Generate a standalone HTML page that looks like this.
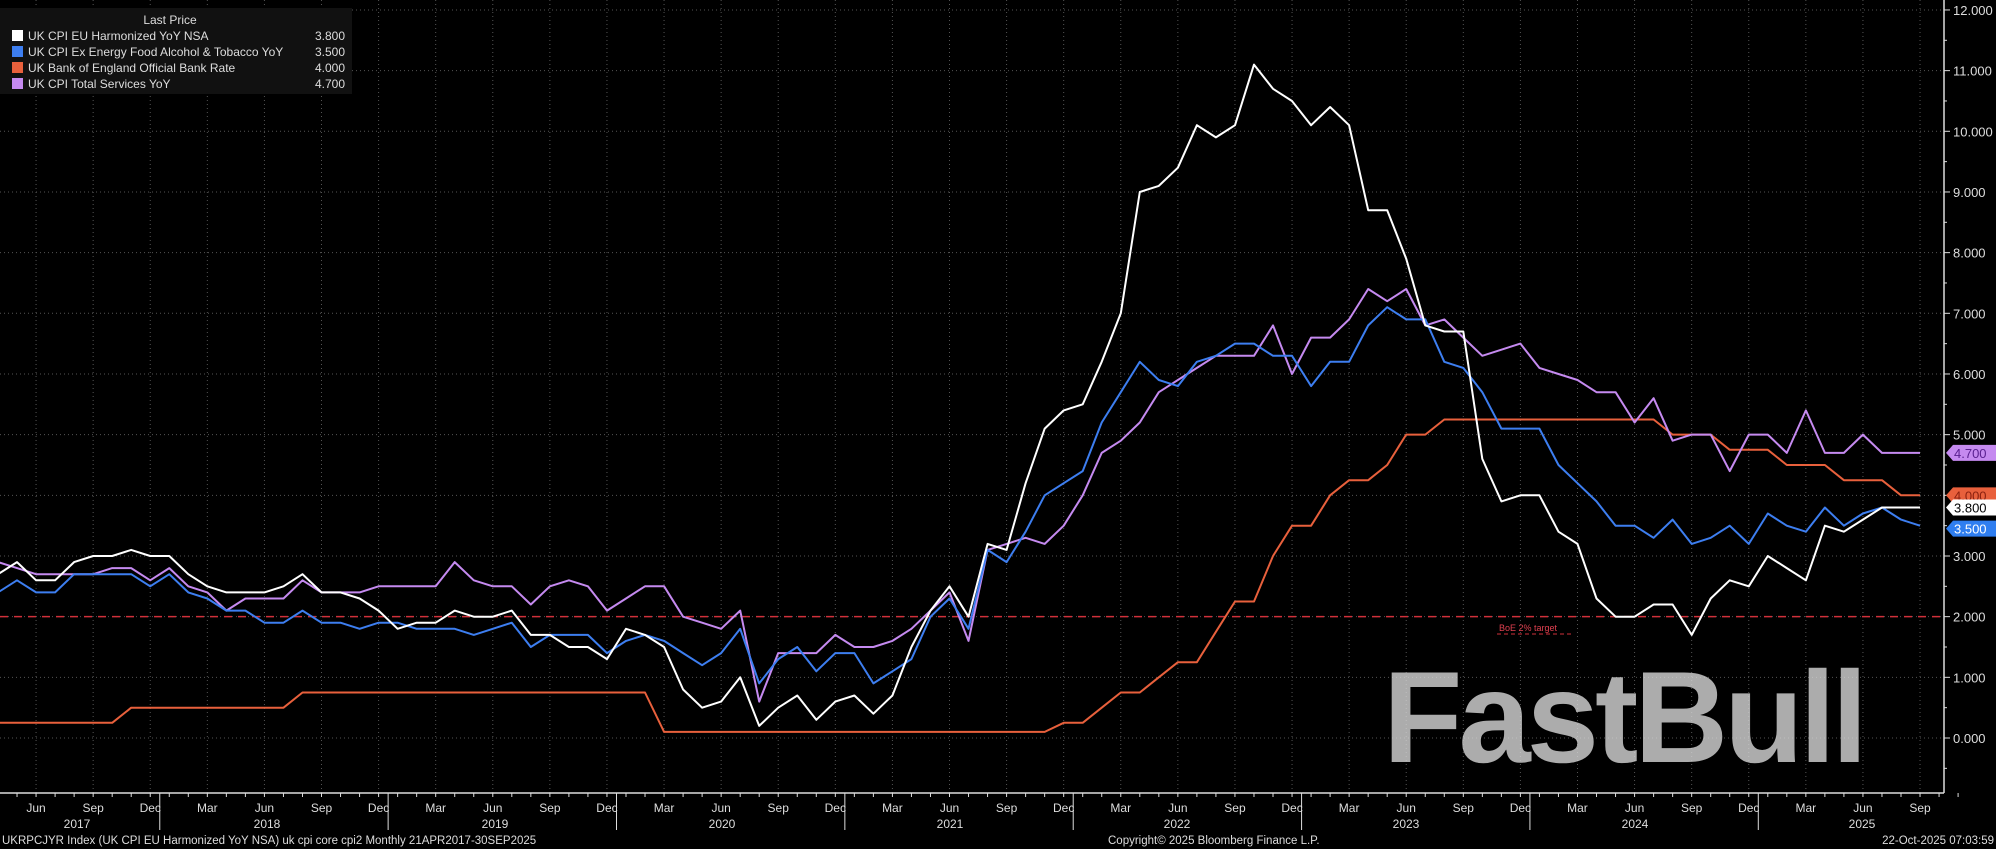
<!DOCTYPE html>
<html><head><meta charset="utf-8"><style>
html,body{margin:0;padding:0;background:#000;width:1996px;height:849px;overflow:hidden}
svg{display:block;font-family:"Liberation Sans",sans-serif}
</style></head><body>
<svg id="c" width="1996" height="849" viewBox="0 0 1996 849"></svg>
<script>
const svg=document.getElementById('c');
const NS='http://www.w3.org/2000/svg';
function el(t,a,txt){const e=document.createElementNS(NS,t);for(const k in a)e.setAttribute(k,a[k]);if(txt!==undefined)e.textContent=txt;svg.appendChild(e);return e;}
const X=i=>-2+i*19.03;
const Y=v=>738-v*60.67;
const R=1944;
for(let v=0;v<=12;v++){el('line',{x1:0,x2:R,y1:Y(v),y2:Y(v),stroke:'#555','stroke-dasharray':'1,3','stroke-width':1});}
for(let i=2;i<=101;i+=3){el('line',{x1:X(i),x2:X(i),y1:0,y2:793,stroke:'#555','stroke-dasharray':'1,3','stroke-width':1});}
el('line',{x1:R,x2:R,y1:0,y2:793,stroke:'#ddd','stroke-width':1.5});
el('line',{x1:0,x2:R,y1:793,y2:793,stroke:'#ddd','stroke-width':1.5});
for(let v=0;v<=12;v++){el('line',{x1:R,x2:R+6,y1:Y(v),y2:Y(v),stroke:'#ddd'});
 el('text',{x:R+9,y:Y(v)+5,fill:'#ddd','font-size':13},v.toFixed(3));
 el('line',{x1:R,x2:R+3,y1:Y(v+0.5),y2:Y(v+0.5),stroke:'#ddd'});}
el('line',{x1:R,x2:R+3,y1:Y(-0.5),y2:Y(-0.5),stroke:'#ddd'});
const mn=['Jan','Feb','Mar','Apr','May','Jun','Jul','Aug','Sep','Oct','Nov','Dec'];
for(let i=0;i<=103;i++){const m=(i+3)%12;const x=X(i);
 el('line',{x1:x,x2:x,y1:793,y2:797,stroke:'#ddd'});
 if(m%3==2 && i<=101) el('text',{x:x,y:812,fill:'#ddd','font-size':12,'text-anchor':'middle'},mn[m]);
 if(m==0) el('line',{x1:x-9.5,x2:x-9.5,y1:793,y2:830,stroke:'#ddd'});}
const yrs=[[2017,77],[2018,267],[2019,495],[2020,722],[2021,950],[2022,1177],[2023,1406],[2024,1635],[2025,1862]];
yrs.forEach(([y,x])=>el('text',{x:x,y:828,fill:'#ddd','font-size':12,'text-anchor':'middle'},y));
const cpi=[2.7,2.9,2.6,2.6,2.9,3.0,3.0,3.1,3.0,3.0,2.7,2.5,2.4,2.4,2.4,2.5,2.7,2.4,2.4,2.3,2.1,1.8,1.9,1.9,2.1,2.0,2.0,2.1,1.7,1.7,1.5,1.5,1.3,1.8,1.7,1.5,0.8,0.5,0.6,1.0,0.2,0.5,0.7,0.3,0.6,0.7,0.4,0.7,1.5,2.1,2.5,2.0,3.2,3.1,4.2,5.1,5.4,5.5,6.2,7.0,9.0,9.1,9.4,10.1,9.9,10.1,11.1,10.7,10.5,10.1,10.4,10.1,8.7,8.7,7.9,6.8,6.7,6.7,4.6,3.9,4.0,4.0,3.4,3.2,2.3,2.0,2.0,2.2,2.2,1.7,2.3,2.6,2.5,3.0,2.8,2.6,3.5,3.4,3.6,3.8,3.8,3.8];
const core=[2.4,2.6,2.4,2.4,2.7,2.7,2.7,2.7,2.5,2.7,2.4,2.3,2.1,2.1,1.9,1.9,2.1,1.9,1.9,1.8,1.9,1.9,1.8,1.8,1.8,1.7,1.8,1.9,1.5,1.7,1.7,1.7,1.4,1.6,1.7,1.6,1.4,1.2,1.4,1.8,0.9,1.3,1.5,1.1,1.4,1.4,0.9,1.1,1.3,2.0,2.3,1.8,3.1,2.9,3.4,4.0,4.2,4.4,5.2,5.7,6.2,5.9,5.8,6.2,6.3,6.5,6.5,6.3,6.3,5.8,6.2,6.2,6.8,7.1,6.9,6.9,6.2,6.1,5.7,5.1,5.1,5.1,4.5,4.2,3.9,3.5,3.5,3.3,3.6,3.2,3.3,3.5,3.2,3.7,3.5,3.4,3.8,3.5,3.7,3.8,3.6,3.5];
const serv=[2.9,2.8,2.7,2.7,2.7,2.7,2.8,2.8,2.6,2.8,2.5,2.4,2.1,2.3,2.3,2.3,2.6,2.4,2.4,2.4,2.5,2.5,2.5,2.5,2.9,2.6,2.5,2.5,2.2,2.5,2.6,2.5,2.1,2.3,2.5,2.5,2.0,1.9,1.8,2.1,0.6,1.4,1.4,1.4,1.7,1.5,1.5,1.6,1.8,2.1,2.4,1.6,3.1,3.2,3.3,3.2,3.5,4.0,4.7,4.9,5.2,5.7,5.9,6.1,6.3,6.3,6.3,6.8,6.0,6.6,6.6,6.9,7.4,7.2,7.4,6.8,6.9,6.6,6.3,6.4,6.5,6.1,6.0,5.9,5.7,5.7,5.2,5.6,4.9,5.0,5.0,4.4,5.0,5.0,4.7,5.4,4.7,4.7,5.0,4.7,4.7,4.7];
const ch={'2017-11':0.5,'2018-8':0.75,'2020-3':0.1,'2021-12':0.25,'2022-2':0.5,'2022-3':0.75,'2022-5':1.0,'2022-6':1.25,'2022-8':1.75,'2022-9':2.25,'2022-11':3.0,'2022-12':3.5,'2023-2':4.0,'2023-3':4.25,'2023-5':4.5,'2023-6':5.0,'2023-8':5.25,'2024-8':5.0,'2024-11':4.75,'2025-2':4.5,'2025-5':4.25,'2025-8':4.0};
const rate=[];let r=0.25;
for(let i=0;i<102;i++){const y=2017+Math.floor((i+3)/12),m=(i+3)%12+1;if(ch[y+'-'+m]!==undefined)r=ch[y+'-'+m];rate.push(r);}
el('line',{x1:0,x2:R,y1:Y(2),y2:Y(2),stroke:'#d0303a','stroke-width':1.5,'stroke-dasharray':'8,6'});
el('text',{x:1499,y:631,fill:'#e04050','font-size':9},'BoE 2% target');
el('line',{x1:1497,x2:1573,y1:634,y2:634,stroke:'#d0303a','stroke-dasharray':'4,3'});
function line(d,c){el('polyline',{points:d.map((v,i)=>X(i).toFixed(1)+','+Y(v).toFixed(1)).join(' '),fill:'none',stroke:c,'stroke-width':2,'stroke-linejoin':'round'});}
line(rate,'#e8603c');line(serv,'#c58af0');line(core,'#3d7ef0');line(cpi,'#ffffff');
el('text',{x:1383,y:762,fill:'rgba(220,220,220,0.78)','font-size':130,'font-weight':'bold','letter-spacing':-4},'FastBull');
function tag(v,bg,fg,yy){const y=yy;el('polygon',{points:`${R+2},${y} ${R+9},${y-8} ${1996},${y-8} ${1996},${y+8} ${R+9},${y+8}`,fill:bg});
 el('text',{x:R+10,y:y+5,fill:fg,'font-size':13},v);}
tag('4.700','#c58af0','#5a2090',Y(4.7));tag('4.000','#e8603c','#8a2010',Y(4.0));tag('3.800','#ffffff','#000',Y(3.8));tag('3.500','#2f7ef0','#fff',Y(3.5)+3);
el('rect',{x:0,y:8,width:352,height:86,fill:'#111'});
el('text',{x:170,y:24,fill:'#ddd','font-size':12,'text-anchor':'middle'},'Last Price');
[['UK CPI EU Harmonized YoY NSA','3.800','#fff'],['UK CPI Ex Energy Food Alcohol & Tobacco YoY','3.500','#3d7ef0'],['UK Bank of England Official Bank Rate','4.000','#e8603c'],['UK CPI Total Services YoY','4.700','#c58af0']].forEach((a,k)=>{const y=36+k*16;
 el('rect',{x:12,y:y-6,width:11,height:11,fill:a[2]});
 el('text',{x:28,y:y+4,fill:'#ddd','font-size':12},a[0]);
 el('text',{x:345,y:y+4,fill:'#ddd','font-size':12,'text-anchor':'end'},a[1]);});
el('text',{x:2,y:844,fill:'#ddd','font-size':11.5},'UKRPCJYR Index (UK CPI EU Harmonized YoY NSA) uk cpi core cpi2 Monthly 21APR2017-30SEP2025');
el('text',{x:1108,y:844,fill:'#ddd','font-size':11.5},'Copyright© 2025 Bloomberg Finance L.P.');
el('text',{x:1994,y:844,fill:'#ddd','font-size':11.5,'text-anchor':'end'},'22-Oct-2025 07:03:59');
</script>
</body></html>
